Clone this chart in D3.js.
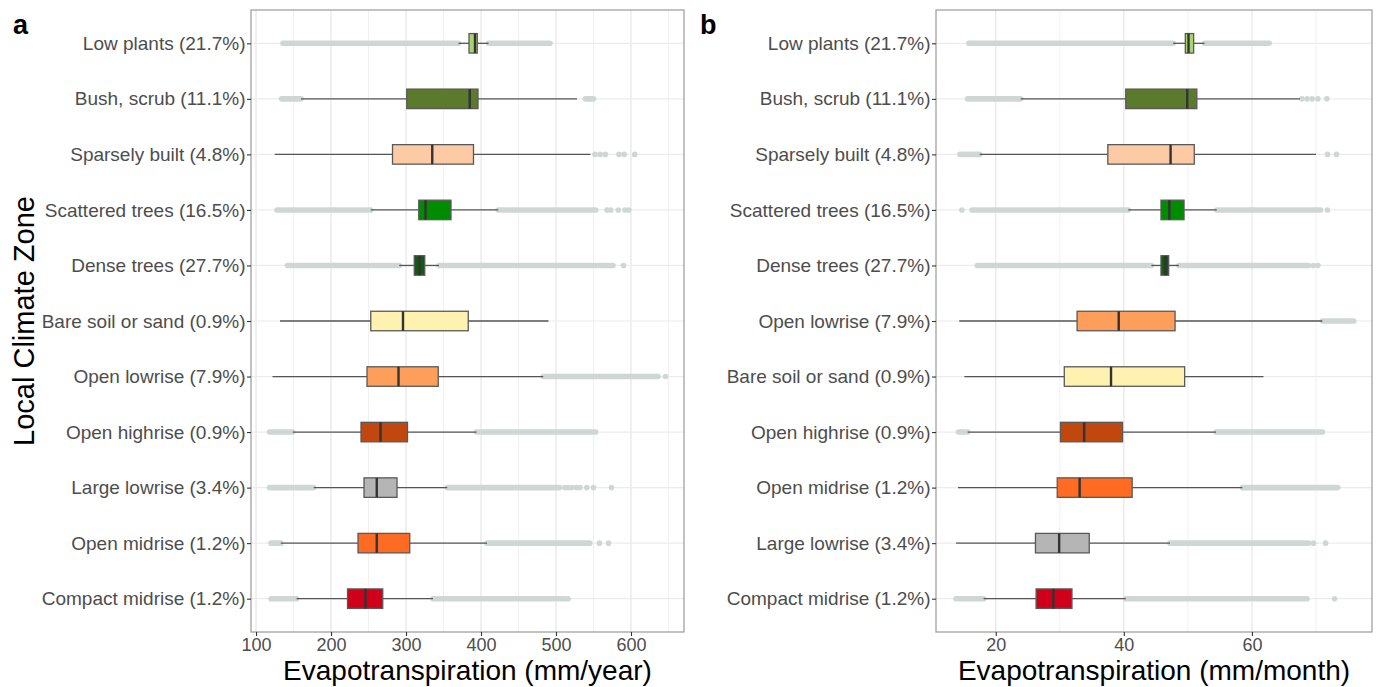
<!DOCTYPE html>
<html>
<head>
<meta charset="utf-8">
<script src="https://cdn.jsdelivr.net/npm/d3@7"></script>
<style>
body { margin: 0; background: #fff; }
text { font-family: "Liberation Sans", Arial, sans-serif; }
</style>
</head>
<body>
<div id="vis"></div>
<script>
const SVG_WIDTH = 1379;
const SVG_HEIGHT = 687;
const TOP = 10;
const BOTTOM = 632;

// zones as listed in panel a, with area share
const zones = ["Low plants", "Bush, scrub", "Sparsely built", "Scattered trees", "Dense trees",
    "Bare soil or sand", "Open lowrise", "Open highrise", "Large lowrise", "Open midrise", "Compact midrise"];
const shares = ["21.7%", "11.1%", "4.8%", "16.5%", "27.7%", "0.9%", "7.9%", "0.9%", "3.4%", "1.2%", "1.2%"];
const zoneColors = ["#a9d46f", "#5b7a2c", "#fdcaa6", "#008c00", "#0e5c0e",
    "#fff1b0", "#fd9f5b", "#c0480f", "#b5b5b5", "#ff6b22", "#d1001a"];

// panel a: mm/year  [whisker low, q1, median, q3, whisker high]
const yearStats = [
    [370, 384, 392, 395, 410],
    [160, 301, 385, 396, 528],
    [125, 282, 335, 390, 546],
    [253, 317, 326, 360, 423],
    [291, 311, 318, 325, 344],
    [132, 253, 296, 383, 490],
    [122, 248, 290, 343, 483],
    [149, 240, 266, 302, 394],
    [177, 244, 261, 288, 355],
    [133, 236, 261, 305, 408],
    [154, 222, 246, 269, 336]
];
// dense runs of outliers [from, to], and single outliers
const yearOutlierBands = [
    [[136, 370], [410, 492]],
    [[134, 160], [539, 550]],
    [],
    [[128, 253], [423, 553]],
    [[142, 291], [344, 576]],
    [],
    [[483, 636]],
    [[118, 149], [394, 553]],
    [[118, 177], [355, 505]],
    [[120, 133], [408, 545]],
    [[120, 154], [336, 508]]
];
const yearOutlierPoints = [
    [],
    [],
    [552, 559, 566, 584, 591, 605],
    [568, 573, 583, 592, 597],
    [590],
    [],
    [646],
    [],
    [512, 516, 521, 527, 532, 541, 550, 574],
    [558, 570],
    [512, 516]
];

// panel b: mm/month, zones in this order
const monthOrder = ["Low plants", "Bush, scrub", "Sparsely built", "Scattered trees", "Dense trees",
    "Open lowrise", "Bare soil or sand", "Open highrise", "Open midrise", "Large lowrise", "Compact midrise"];
const monthStats = [
    [47.7, 49.6, 50.1, 50.9, 52.6],
    [23.9, 40.3, 49.9, 51.4, 67.5],
    [17.5, 37.5, 47.3, 51.0, 70.0],
    [40.7, 45.8, 47.1, 49.4, 54.5],
    [44.3, 45.8, 46.5, 47.0, 48.6],
    [14.3, 32.7, 39.2, 48.0, 71.0],
    [15.1, 30.7, 38.0, 49.5, 61.8],
    [15.6, 30.1, 33.8, 39.8, 54.4],
    [14.1, 29.6, 33.1, 41.3, 58.5],
    [13.8, 26.2, 29.9, 34.6, 47.2],
    [18.1, 26.3, 29.0, 31.9, 40.3]
];
const monthOutlierBands = [
    [[15.8, 47.7], [52.6, 62.7]],
    [[15.6, 23.9]],
    [[14.4, 17.5]],
    [[16.3, 40.7], [54.5, 70.7]],
    [[17.1, 44.3], [48.6, 68.8]],
    [[71.0, 75.9]],
    [],
    [[14.2, 15.6], [54.4, 71.0]],
    [[58.5, 73.4]],
    [[47.2, 68.8]],
    [[13.8, 18.1], [40.3, 68.6]]
];
const monthOutlierPoints = [
    [],
    [67.8, 68.6, 69.4, 70.3, 71.7],
    [71.8, 73.2],
    [14.7, 71.8],
    [69.6, 70.3],
    [],
    [],
    [],
    [],
    [69.6, 71.5],
    [72.9]
];

const yearTicks = [100, 200, 300, 400, 500, 600];
const yearMinor = [150, 250, 350, 450, 550, 650];
const monthTicks = [20, 40, 60];
const monthMinor = [30, 50, 70];

const SVG = d3.select("#vis").append("svg")
    .attr("width", SVG_WIDTH).attr("height", SVG_HEIGHT);

const shareOf = (z) => shares[zones.indexOf(z)];
const colorOf = (z) => zoneColors[zones.indexOf(z)];

function drawPanel(p) {
    const g = SVG.append("g");
    const x = d3.scaleLinear().domain(p.domain).range([p.left, p.right]);
    const y = d3.scalePoint().domain(p.order).range([TOP, BOTTOM]).padding(0.6);
    const boxH = 19.5;

    // grid
    g.selectAll(".minor").data(p.minor).join("line")
        .attr("x1", d => x(d)).attr("x2", d => x(d))
        .attr("y1", TOP).attr("y2", BOTTOM)
        .attr("stroke", "#f1f1f1").attr("stroke-width", 1);
    g.selectAll(".major").data(p.ticks).join("line")
        .attr("x1", d => x(d)).attr("x2", d => x(d))
        .attr("y1", TOP).attr("y2", BOTTOM)
        .attr("stroke", "#e6e6e6").attr("stroke-width", 1.2);
    g.selectAll(".hgrid").data(p.order).join("line")
        .attr("x1", p.left).attr("x2", p.right)
        .attr("y1", d => y(d)).attr("y2", d => y(d))
        .attr("stroke", "#ececec").attr("stroke-width", 1.2);

    // outliers
    const bands = p.bands.flatMap((bs, i) => bs.map(b => ({ zone: p.order[i], from: b[0], to: b[1] })));
    g.selectAll(".band").data(bands).join("line")
        .attr("x1", d => x(d.from)).attr("x2", d => x(d.to))
        .attr("y1", d => y(d.zone)).attr("y2", d => y(d.zone))
        .attr("stroke", "#cfd7d4").attr("stroke-width", 5.6)
        .attr("stroke-linecap", "round");
    const pts = p.points.flatMap((ps, i) => ps.map(v => ({ zone: p.order[i], v: v })));
    g.selectAll(".pt").data(pts).join("circle")
        .attr("cx", d => x(d.v)).attr("cy", d => y(d.zone))
        .attr("r", 2.8).attr("fill", "#cfd7d4");

    const rows = p.stats.map((s, i) => ({ zone: p.order[i], lo: s[0], q1: s[1], med: s[2], q3: s[3], hi: s[4] }));

    // whiskers
    g.selectAll(".wlo").data(rows).join("line")
        .attr("x1", d => x(d.lo)).attr("x2", d => x(d.q1))
        .attr("y1", d => y(d.zone)).attr("y2", d => y(d.zone))
        .attr("stroke", "#555").attr("stroke-width", 1.3);
    g.selectAll(".whi").data(rows).join("line")
        .attr("x1", d => x(d.q3)).attr("x2", d => x(d.hi))
        .attr("y1", d => y(d.zone)).attr("y2", d => y(d.zone))
        .attr("stroke", "#555").attr("stroke-width", 1.3);

    // boxes
    g.selectAll(".box").data(rows).join("rect")
        .attr("x", d => x(d.q1)).attr("width", d => x(d.q3) - x(d.q1))
        .attr("y", d => y(d.zone) - boxH / 2).attr("height", boxH)
        .attr("fill", d => colorOf(d.zone))
        .attr("stroke", "#595959").attr("stroke-width", 1.3);
    g.selectAll(".med").data(rows).join("line")
        .attr("x1", d => x(d.med)).attr("x2", d => x(d.med))
        .attr("y1", d => y(d.zone) - boxH / 2).attr("y2", d => y(d.zone) + boxH / 2)
        .attr("stroke", "#333").attr("stroke-width", 2.4);

    // panel border
    g.append("rect")
        .attr("x", p.left).attr("y", TOP)
        .attr("width", p.right - p.left).attr("height", BOTTOM - TOP)
        .attr("fill", "none").attr("stroke", "#9a9a9a").attr("stroke-width", 1.2);

    // axes
    const xAxis = g.append("g")
        .attr("transform", `translate(0, ${BOTTOM})`)
        .call(d3.axisBottom(x).tickValues(p.ticks).tickSize(4).tickPadding(2));
    xAxis.select(".domain").remove();
    xAxis.selectAll("line").attr("stroke", "#333").attr("stroke-width", 1.1);
    xAxis.selectAll("text").attr("font-size", 18).attr("fill", "#4d4d4d")
        .attr("font-family", "Liberation Sans, Arial, sans-serif");

    const yAxis = g.append("g")
        .attr("transform", `translate(${p.left}, 0)`)
        .call(d3.axisLeft(y).tickSize(4).tickPadding(1.5).tickFormat(z => `${z} (${shareOf(z)})`));
    yAxis.select(".domain").remove();
    yAxis.selectAll("line").attr("stroke", "#333").attr("stroke-width", 1.1);
    yAxis.selectAll("text").attr("font-size", 19).attr("fill", "#4d4d4d")
        .attr("font-family", "Liberation Sans, Arial, sans-serif");

    // titles
    g.append("text")
        .text(p.title)
        .attr("x", (p.left + p.right) / 2).attr("y", 680)
        .attr("text-anchor", "middle")
        .attr("font-size", 28).attr("fill", "#000");
    g.append("text")
        .text(p.letter)
        .attr("x", p.letterX).attr("y", 34)
        .attr("font-size", 27).attr("font-weight", "bold").attr("fill", "#000");
}

drawPanel({
    order: zones, stats: yearStats, bands: yearOutlierBands, points: yearOutlierPoints,
    domain: [93.3, 670.7], left: 251, right: 684,
    ticks: yearTicks, minor: yearMinor,
    title: "Evapotranspiration (mm/year)", letter: "a", letterX: 13
});

drawPanel({
    order: monthOrder, stats: monthStats, bands: monthOutlierBands, points: monthOutlierPoints,
    domain: [10.67, 78.75], left: 936, right: 1372,
    ticks: monthTicks, minor: monthMinor,
    title: "Evapotranspiration (mm/month)", letter: "b", letterX: 700
});

SVG.append("text")
    .text("Local Climate Zone")
    .attr("transform", "translate(34, 321) rotate(-90)")
    .attr("text-anchor", "middle")
    .attr("font-size", 29).attr("fill", "#000");
</script>
</body>
</html>
